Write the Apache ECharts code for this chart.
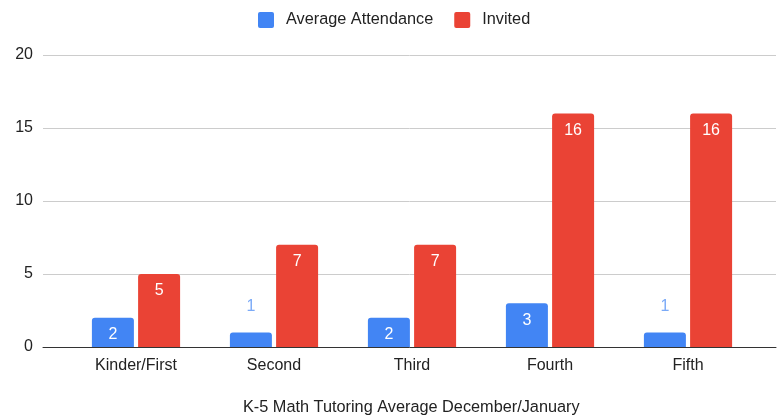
<!DOCTYPE html>
<html>
<head>
<meta charset="utf-8">
<script src="https://cdn.jsdelivr.net/npm/echarts@6/dist/echarts.min.js"></script>
<style>
html,body{margin:0;padding:0;background:#fff;}
#c{width:777px;height:418px;}
</style>
</head>
<body>
<div id="c"></div>
<script>
const categories = ['Kinder/First', 'Second', 'Third', 'Fourth', 'Fifth'];
const attendance = [2, 1, 2, 3, 1];
const invited = [5, 7, 7, 16, 16];
const yTicks = [0, 5, 10, 15, 20];
const chartTitle = 'K-5 Math Tutoring Average December/January';

const FONT = 'Arial, "Liberation Sans", sans-serif';
const BLUE = '#4285F4';
const RED = '#EA4335';

function makeData(values, lightColor) {
  return values.map(v => {
    if (v < 2) {
      return {
        value: v,
        label: { position: 'top', distance: 18, color: lightColor }
      };
    }
    return { value: v };
  });
}

const chart = echarts.init(document.getElementById('c'), null, { renderer: 'canvas' });
chart.setOption({
  animation: false,
  backgroundColor: '#fff',
  textStyle: { fontFamily: FONT },
  title: {
    text: chartTitle,
    left: 243,
    top: 400,
    padding: 0,
    textStyle: { fontFamily: FONT, fontSize: 16.3, fontWeight: 'normal', color: '#222' }
  },
  legend: {
    top: 12,
    left: 258,
    padding: 0,
    itemWidth: 16,
    itemHeight: 16,
    itemGap: 21,
    icon: 'path://M2,0 L14,0 Q16,0 16,2 L16,14 Q16,16 14,16 L2,16 Q0,16 0,14 L0,2 Q0,0 2,0 Z',
    textStyle: { fontFamily: FONT, fontSize: 16.3, color: '#222', padding: [0, 0, 0, 7] },
    data: ['Average Attendance', 'Invited']
  },
  grid: [
    { left: 43, right: 1, top: 55, bottom: 71 },
    { left: 67, right: 20, top: 55, bottom: 71 }
  ],
  xAxis: [
    {
      gridIndex: 0, type: 'value', min: 0, max: 1,
      axisLine: { show: true, lineStyle: { color: '#333', width: 1 } },
      axisTick: { show: false }, axisLabel: { show: false }, splitLine: { show: false }
    },
    {
      gridIndex: 1, type: 'category', data: categories,
      axisLine: { show: false }, axisTick: { show: false },
      axisLabel: { fontFamily: FONT, fontSize: 16, color: '#222', margin: 11 }
    }
  ],
  yAxis: [
    {
      gridIndex: 0, type: 'value', min: yTicks[0], max: yTicks[yTicks.length - 1], interval: 5,
      axisLine: { show: false }, axisTick: { show: false },
      axisLabel: { fontFamily: FONT, fontSize: 16, color: '#222', margin: 10 },
      splitLine: { lineStyle: { color: '#ccc', width: 1 } }
    },
    {
      gridIndex: 1, type: 'value', min: yTicks[0], max: yTicks[yTicks.length - 1], interval: 5,
      show: false, splitLine: { show: false }
    }
  ],
  series: [
    {
      name: 'Average Attendance', type: 'bar', xAxisIndex: 1, yAxisIndex: 1,
      data: makeData(attendance, '#7BAAF7'),
      barWidth: 42, barGap: '10%',
      itemStyle: { color: BLUE, borderRadius: [3, 3, 0, 0] },
      label: { show: true, position: 'insideTop', distance: 9, color: '#fff', fontFamily: FONT, fontSize: 16 },
      z: 3
    },
    {
      name: 'Invited', type: 'bar', xAxisIndex: 1, yAxisIndex: 1,
      data: makeData(invited, '#F28B82'),
      barWidth: 42, barGap: '10%',
      itemStyle: { color: RED, borderRadius: [3, 3, 0, 0] },
      label: { show: true, position: 'insideTop', distance: 9, color: '#fff', fontFamily: FONT, fontSize: 16 },
      z: 3
    }
  ]
});
</script>
</body>
</html>
